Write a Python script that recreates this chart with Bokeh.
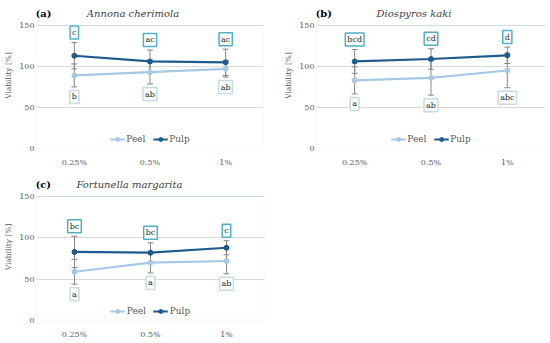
from bokeh.plotting import figure
from bokeh.models import FactorRange, Range1d, Legend, LegendItem, FixedTicker, BoxAnnotation
from bokeh.layouts import column, row
from bokeh.embed import file_html
from bokeh.resources import INLINE
from bokeh.core.properties import value

# ---------------- data ----------------
cats = ["0.25%", "0.5%", "1%"]
y_ticks = [0, 50, 100, 150]
series_names = ["Peel", "Pulp"]

titles = ["Annona cherimola", "Diospyros kaki", "Fortunella margarita"]
tags = ["(a)", "(b)", "(c)"]

# (a) Annona cherimola
peel_a = [89, 93, 97]
peel_sd_a = [14, 14.5, 10]
pulp_a = [113, 106, 105]
pulp_sd_a = [16, 14, 16]
peel_lab_a = ["b", "ab", "ab"]
pulp_lab_a = ["c", "ac", "ac"]

# (b) Diospyros kaki
peel_b = [83, 86, 95]
peel_sd_b = [16.5, 21, 21]
pulp_b = [106, 109, 113.5]
pulp_sd_b = [14.5, 12.5, 10]
peel_lab_b = ["a", "ab", "abc"]
pulp_lab_b = ["bcd", "cd", "d"]

# (c) Fortunella margarita
peel_c = [59, 70, 72]
peel_sd_c = [15, 12.5, 15.5]
pulp_c = [83, 82, 88]
pulp_sd_c = [19, 12, 8.5]
peel_lab_c = ["a", "a", "ab"]
pulp_lab_c = ["bc", "bc", "c"]

# ---------------- style ----------------
FONT = "DejaVu Serif"
PEEL = "#a6c8e6"
PULP = "#1f5a8c"
ERR = "#858585"
PEEL_BOX = "#c5dbe6"
PULP_BOX = "#4fb0c8"
GRID = "#d9d9d9"
OUTLINE = "#d3e0e8"
TXT = "#595959"

BOX_PX = 124      # height of the 0-150 box in pixels
FRAME_PX = 147    # frame height (box + room for the panel title)
Y_END = y_ticks[-1] * FRAME_PX / BOX_PX


def panel(tag, title, peel, peel_sd, pulp, pulp_sd, peel_lab, pulp_lab,
          width, height, bl, br, bt, bb, title_dx, title_dy):
    p = figure(x_range=FactorRange(factors=cats), y_range=Range1d(0, Y_END),
               width=width, height=height, output_backend="svg", title=None,
               toolbar_location=None, min_border_left=bl, min_border_right=br,
               min_border_top=bt, min_border_bottom=bb)
    p.background_fill_color = "white"
    p.border_fill_color = "white"
    p.outline_line_color = None
    p.xgrid.grid_line_color = None
    p.ygrid.grid_line_color = GRID
    p.ygrid.ticker = FixedTicker(ticks=y_ticks)
    p.yaxis.ticker = FixedTicker(ticks=y_ticks)
    p.yaxis.bounds = (y_ticks[0], y_ticks[-1])
    for ax in (p.xaxis[0], p.yaxis[0]):
        ax.axis_line_color = None
        ax.major_tick_line_color = None
        ax.minor_tick_line_color = None
        ax.major_tick_out = 0
        ax.minor_tick_out = 0
        ax.major_tick_in = 0
        ax.minor_tick_in = 0
        ax.major_label_text_font = FONT
        ax.major_label_text_font_size = "8px"
        ax.major_label_text_color = TXT
    p.xaxis.major_label_standoff = 9
    p.yaxis.major_label_standoff = 2
    p.yaxis.axis_label = "Viability [%]"
    p.yaxis.axis_label_text_font = FONT
    p.yaxis.axis_label_text_font_size = "7.5px"
    p.yaxis.axis_label_text_font_style = "normal"
    p.yaxis.axis_label_text_color = TXT
    p.yaxis.axis_label_standoff = 3

    # plot-area box (0..150)
    p.add_layout(BoxAnnotation(bottom=y_ticks[0], top=y_ticks[-1], fill_color=None,
                               line_color=OUTLINE, line_width=1.5))

    # error bars
    for mean, sd in ((peel, peel_sd), (pulp, pulp_sd)):
        lo = [m - s for m, s in zip(mean, sd)]
        hi = [m + s for m, s in zip(mean, sd)]
        p.segment(x0=cats, y0=lo, x1=cats, y1=hi, line_color=ERR, line_width=1)
        p.scatter(x=cats + cats, y=lo + hi, marker="dash", size=6,
                  line_color=ERR, line_width=1)

    items = []
    for name, mean, col in (("Peel", peel, PEEL), ("Pulp", pulp, PULP)):
        lr = p.line(x=cats, y=mean, line_color=col, line_width=2.2)
        sr = p.scatter(x=cats, y=mean, marker="circle", size=5,
                       fill_color=col, line_color=col)
        items.append(LegendItem(label=name, renderers=[lr, sr]))

    # significance letters
    pulp_top = [m + s for m, s in zip(pulp, pulp_sd)]
    peel_bot = [m - s for m, s in zip(peel, peel_sd)]
    for ys, labs, box, off in ((pulp_top, pulp_lab, PULP_BOX, -10),
                               (peel_bot, peel_lab, PEEL_BOX, 10)):
        p.text(x=cats, y=ys, text=labs, y_offset=off, text_align="center",
               text_baseline="middle", text_font=value(FONT),
               text_font_size="8px", text_color="#262626",
               background_fill_color="white", border_line_color=box,
               border_line_width=1.5, padding=2)

    leg = Legend(items=items, orientation="horizontal", location="bottom_center",
                 label_text_font=FONT, label_text_font_size="9px",
                 label_text_color=TXT, glyph_width=15, glyph_height=10,
                 label_standoff=2, spacing=6, padding=2, margin=4,
                 border_line_color=None, background_fill_alpha=0)
    p.add_layout(leg, "center")

    # panel tag and species title, just above the box
    fw = width - bl - br
    p.text(x=[cats[0]], y=[y_ticks[-1]], text=[tag], x_offset=-fw / 6 - 1,
           y_offset=title_dy, text_align="left", text_baseline="middle",
           text_font=value(FONT), text_font_size="10px", text_font_style="bold",
           text_color="black")
    p.text(x=[cats[1]], y=[y_ticks[-1]], text=[title], x_offset=title_dx,
           y_offset=title_dy, text_align="center", text_baseline="middle",
           text_font=value(FONT), text_font_size="10px", text_font_style="italic",
           text_color="#404040")
    return p


pa = panel(tags[0], titles[0], peel_a, peel_sd_a, pulp_a, pulp_sd_a, peel_lab_a, pulp_lab_a,
           276, 170, 36, 13, 2, 21, -17, -12)
pb = panel(tags[1], titles[1], peel_b, peel_sd_b, pulp_b, pulp_sd_b, peel_lab_b, pulp_lab_b,
           274, 170, 40, 5, 1, 22, -17, -12)
pc = panel(tags[2], titles[2], peel_c, peel_sd_c, pulp_c, pulp_sd_c, peel_lab_c, pulp_lab_c,
           276, 173, 36, 12, 3, 23, -21, -12)

layout = column(row(pa, pb), pc)
open("out.html", "w").write(file_html(layout, INLINE))
